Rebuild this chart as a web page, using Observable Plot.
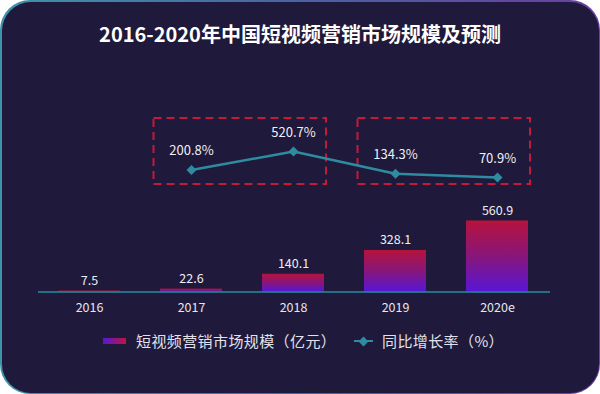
<!DOCTYPE html>
<html><head><meta charset="utf-8">
<script src="https://cdn.jsdelivr.net/npm/d3@7"></script>
<script src="https://cdn.jsdelivr.net/npm/@observablehq/plot@0.6"></script>
<style>
html,body{margin:0;padding:0;background:#fff;}
#card{position:absolute;left:0;top:0;width:600px;height:394px;border-radius:30px;background:linear-gradient(90deg,#3f93a8 0%,#4a62a2 50%,#6a3fa0 100%);}
#inner{position:absolute;left:1.5px;top:1.5px;right:1.5px;bottom:1.5px;border-radius:29px;background:#1f193b;}
#chart{position:absolute;left:0;top:0;width:600px;height:394px;}
#chart svg{position:absolute;left:0;top:0;}
#title{position:absolute;left:0;top:23px;width:600px;text-align:center;color:#fff;font:bold 20px "Noto Sans CJK SC",sans-serif;line-height:22px;}
#legend{position:absolute;left:0;top:330px;width:600px;height:22px;font:15px "Noto Sans CJK SC",sans-serif;color:#e2e2ea;letter-spacing:0.4px;}
.sw{position:absolute;left:103px;top:8px;width:23px;height:6px;background:linear-gradient(90deg,#5716d6,#c0143c);}
.lt{position:absolute;top:0;line-height:22px;white-space:nowrap;}
.ln{position:absolute;left:354px;top:10px;width:19px;height:2px;background:#2e8ca0;}
.dm{position:absolute;left:360px;top:7.5px;width:7px;height:7px;background:#2e8ca0;transform:rotate(45deg);}
</style></head>
<body>
<div id="card"><div id="inner"></div></div>
<div id="chart"></div>
<div id="title">2016-2020年中国短视频营销市场规模及预测</div>
<div id="legend">
  <div class="sw"></div><div class="lt" style="left:136px">短视频营销市场规模（亿元）</div>
  <div class="ln"></div><div class="dm"></div><div class="lt" style="left:382px">同比增长率（%）</div>
</div>
<script>
const years = ["2016","2017","2018","2019","2020e"];
const marketSize = [7.5, 22.6, 140.1, 328.1, 560.9];
const growthYears = ["2017","2018","2019","2020e"];
const growthRate = [200.8, 520.7, 134.3, 70.9];
const boxFrom = ["2017","2019"];
const boxTo = ["2018","2020e"];

const bars = years.map((y,i)=>({year:y, value:marketSize[i]}));
const growth = growthYears.map((y,i)=>({year:y, rate:growthRate[i]}));
const boxes = boxFrom.map((f,i)=>({from:f, to:boxTo[i]}));

const font = '"Noto Sans CJK SC", sans-serif';
const xScale = {type:"band", domain:years, range:[18.6,568.4], padding:0.39};

const defs = () => {
  const d = d3.create("svg:defs");
  const g = d.append("linearGradient").attr("id","barGrad").attr("x1",0).attr("y1",0).attr("x2",0).attr("y2",1);
  g.append("stop").attr("offset","0%").attr("stop-color","#b5133c");
  g.append("stop").attr("offset","50%").attr("stop-color","#88167a");
  g.append("stop").attr("offset","100%").attr("stop-color","#5716d6");
  return d.node();
};

const p1 = Plot.plot({
  width:600, height:394,
  marginLeft:38, marginRight:50, marginTop:20, marginBottom:102.5,
  style:{background:"transparent", fontFamily:font, fontSize:"12.5px", color:"#e6e6ee"},
  x:{...xScale, label:null, tickSize:0, tickPadding:11},
  y:{domain:[0,600], range:[291.5,215.5], axis:null},
  marks:[
    defs,
    Plot.barY(bars,{x:"year", y:"value", fill:"url(#barGrad)"}),
    Plot.ruleY([0],{stroke:"#2a8aa0", strokeWidth:1.5}),
    Plot.text(bars,{x:"year", y:"value", text:d=>d.value.toFixed(1), dy:-10, fill:"#eeeef4", fontSize:12.5})
  ]
});

const p2 = Plot.plot({
  width:600, height:394,
  marginLeft:38, marginRight:50, marginTop:118, marginBottom:210,
  style:{background:"transparent", fontFamily:font, color:"#e6e6ee"},
  x:{...xScale, axis:null},
  y:{domain:[0,600], range:[181.1,146.4], axis:null},
  marks:[
    Plot.rect(boxes,{x1:"from", x2:"to", fill:"none", stroke:"#c41a3a", strokeWidth:2, strokeDasharray:"8,5", insetLeft:-6.5, insetRight:-2}),
    Plot.line(growth,{x:"year", y:"rate", stroke:"#2e8ca0", strokeWidth:2.5}),
    Plot.dot(growth,{x:"year", y:"rate", symbol:"diamond2", r:4.5, fill:"#2e8ca0", stroke:"none"}),
    Plot.text(growth,{x:"year", y:"rate", text:d=>d.rate.toFixed(1)+"%", dy:-19, fill:"#f0f0f4", fontSize:13})
  ]
});

document.getElementById("chart").append(p1, p2);
</script>
</body></html>
